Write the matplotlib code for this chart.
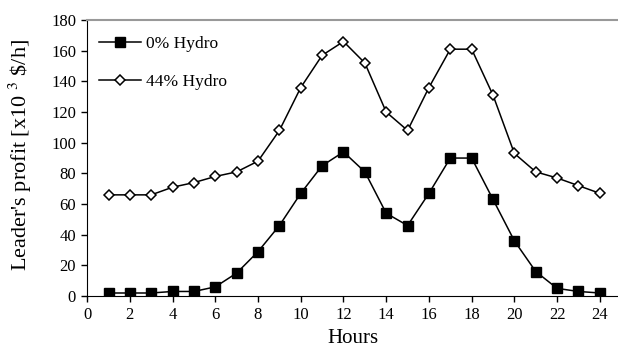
import matplotlib.pyplot as plt

plt.rcParams['font.family'] = ['Liberation Serif', 'DejaVu Serif']
plt.rcParams['mathtext.fontset'] = 'stix'

hours = list(range(1, 25))
no_hydro = [2, 2, 2, 3, 3, 6, 15, 29, 46, 67, 85, 94, 81, 54, 46, 67, 90, 90, 63, 36, 16, 5, 3, 2]
hydro_44 = [66, 66, 66, 71, 74, 78, 81, 88, 108, 136, 157, 166, 152, 120, 108, 136, 161, 161, 131, 93, 81, 77, 72, 67]

fig = plt.figure(figsize=(6.18, 3.58), dpi=100)
ax = fig.add_axes([0.141, 0.173, 0.859, 0.771])

ax.plot(hours, no_hydro, color='black', lw=1.1, marker='s', markersize=7,
        markerfacecolor='black', label='0% Hydro')
ax.plot(hours, hydro_44, color='black', lw=1.1, marker='D', markersize=5.5,
        markerfacecolor='white', markeredgewidth=1.1, label='44% Hydro')

ax.set_xlim(0, 24.85)
ax.set_ylim(0, 180)
ax.set_xticks(range(0, 25, 2))
ax.set_yticks(range(0, 181, 20))
ax.tick_params(direction='out', length=4, width=1, labelsize=12, pad=4)

ax.spines['right'].set_visible(False)
ax.spines['top'].set_color('#999999')
ax.spines['top'].set_linewidth(1.5)

ax.set_xlabel('Hours', fontsize=15)
ax.set_ylabel(r"Leader's profit [x10$\ ^{3}$ \$/h]", fontsize=16)
ax.yaxis.set_label_coords(-0.100, 0.51)

ax.legend(loc='upper left', frameon=False, fontsize=12.5, handlelength=2.4,
          handletextpad=0.3, borderaxespad=0.3, labelspacing=1.25,
          bbox_to_anchor=(0.0, 0.985))

fig.savefig('out.png', dpi=100)
